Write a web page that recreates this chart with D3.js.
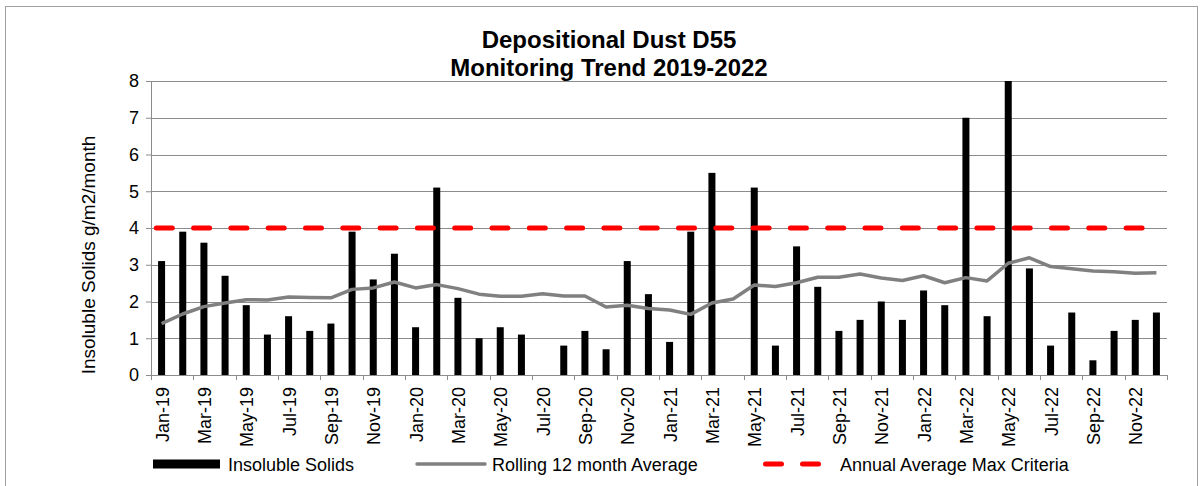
<!DOCTYPE html>
<html>
<head>
<meta charset="utf-8">
<script src="https://cdn.jsdelivr.net/npm/d3@7"></script>
<style>
  body { margin: 0; background: #fff; }
  text { font-family: "Liberation Sans", Arial, sans-serif; fill: #000; }
</style>
</head>
<body>
<svg id="chart" width="1203" height="486"></svg>
<script>
/* Chart data */
var months = ["Jan-19","Feb-19","Mar-19","Apr-19","May-19","Jun-19","Jul-19","Aug-19","Sep-19","Oct-19","Nov-19","Dec-19",
              "Jan-20","Feb-20","Mar-20","Apr-20","May-20","Jun-20","Jul-20","Aug-20","Sep-20","Oct-20","Nov-20","Dec-20",
              "Jan-21","Feb-21","Mar-21","Apr-21","May-21","Jun-21","Jul-21","Aug-21","Sep-21","Oct-21","Nov-21","Dec-21",
              "Jan-22","Feb-22","Mar-22","Apr-22","May-22","Jun-22","Jul-22","Aug-22","Sep-22","Oct-22","Nov-22","Dec-22"];

// null = no sample that month
var insolubleSolids = [3.1, 3.9, 3.6, 2.7, 1.9, 1.1, 1.6, 1.2, 1.4, 3.9, 2.6, 3.3,
                       1.3, 5.1, 2.1, 1.0, 1.3, 1.1, null, 0.8, 1.2, 0.7, 3.1, 2.2,
                       0.9, 3.9, 5.5, null, 5.1, 0.8, 3.5, 2.4, 1.2, 1.5, 2.0, 1.5,
                       2.3, 1.9, 7.0, 1.6, 8.0, 2.9, 0.8, 1.7, 0.4, 1.2, 1.5, 1.7];

var rollingAverage = [1.40, 1.66, 1.86, 1.96, 2.05, 2.04, 2.12, 2.11, 2.10, 2.33, 2.37, 2.53,
                      2.37, 2.46, 2.35, 2.20, 2.14, 2.14, 2.21, 2.15, 2.15, 1.85, 1.90, 1.81,
                      1.77, 1.65, 1.96, 2.07, 2.45, 2.41, 2.51, 2.66, 2.66, 2.75, 2.64, 2.57,
                      2.70, 2.51, 2.65, 2.56, 3.04, 3.19, 2.95, 2.89, 2.83, 2.81, 2.77, 2.78];

var maxCriteria = 4;
var yTicks = [0, 1, 2, 3, 4, 5, 6, 7, 8];

var titleLines = ["Depositional Dust D55", "Monitoring Trend 2019-2022"];
var yLabel = "Insoluble Solids g/m2/month";

/* Layout */
var margin = {left: 151, top: 81, right: 36, bottom: 111};
var width = 1203 - margin.left - margin.right;
var height = 486 - margin.top - margin.bottom;

var svg = d3.select("#chart");

// outer chart border
svg.append("rect")
    .attr("x", 5.5).attr("y", 6.5)
    .attr("width", 1192).attr("height", 490)
    .attr("fill", "none")
    .attr("stroke", "#a0a0a0")
    .attr("stroke-width", 1);

var x = d3.scaleBand().domain(months).range([0, width]).padding(0);
var y = d3.scaleLinear().domain([0, 8]).range([height, 0]);
var bw = x.bandwidth();

var g = svg.append("g")
    .attr("transform", "translate(" + margin.left + "," + margin.top + ")");

// horizontal gridlines
g.selectAll(".grid")
    .data(yTicks.filter(function(t) { return t > 0; }))
    .enter().append("line")
    .attr("x1", 0).attr("x2", width)
    .attr("y1", function(t) { return Math.round(y(t)) + 0.5; })
    .attr("y2", function(t) { return Math.round(y(t)) + 0.5; })
    .attr("stroke", "#8c8c8c")
    .attr("stroke-width", 1);

// y-axis
var yAxis = g.append("g")
    .call(d3.axisLeft(y).tickValues(yTicks).tickSize(5).tickPadding(7).tickFormat(d3.format("d")));
yAxis.select(".domain").attr("stroke", "#8c8c8c");
yAxis.selectAll(".tick line").attr("stroke", "#8c8c8c");
yAxis.selectAll(".tick text")
    .style("font-size", "18px")
    .style("font-family", "Liberation Sans, Arial, sans-serif");

// bars
g.selectAll(".bar")
    .data(months.map(function(m, i) { return {month: m, value: insolubleSolids[i]}; })
        .filter(function(d) { return d.value != null; }))
    .enter().append("rect")
    .attr("class", "bar")
    .attr("x", function(d) { return x(d.month) + bw / 2 - 3.5; })
    .attr("width", 7)
    .attr("y", function(d) { return y(d.value); })
    .attr("height", function(d) { return y(0) - y(d.value); })
    .attr("fill", "#000");

// x-axis line and ticks every 2 months
g.append("line")
    .attr("x1", 0).attr("x2", width)
    .attr("y1", height + 0.5).attr("y2", height + 0.5)
    .attr("stroke", "#8c8c8c");

var tickIdx = d3.range(0, months.length + 1, 2);
g.selectAll(".xtick")
    .data(tickIdx)
    .enter().append("line")
    .attr("x1", function(i) { return Math.round(i * bw) + 0.5; })
    .attr("x2", function(i) { return Math.round(i * bw) + 0.5; })
    .attr("y1", height).attr("y2", height + 5)
    .attr("stroke", "#8c8c8c");

g.selectAll(".xlabel")
    .data(months.filter(function(m, i) { return i % 2 === 0; }))
    .enter().append("text")
    .attr("transform", function(m) {
        return "translate(" + (x(m) + bw / 2 + 7) + "," + (height + 12) + ") rotate(-90)";
    })
    .attr("text-anchor", "end")
    .style("font-size", "18px")
    .text(function(m) { return m; });

// rolling average line
var valueline = d3.line()
    .x(function(d, i) { return x(months[i]) + bw / 2; })
    .y(function(d) { return y(d); });

g.append("path")
    .datum(rollingAverage)
    .attr("fill", "none")
    .attr("stroke", "#808080")
    .attr("stroke-width", 3.5)
    .attr("stroke-linejoin", "round")
    .attr("d", valueline);

// annual average max criteria (red dashed)
g.append("line")
    .attr("x1", 0)
    .attr("x2", x(months[months.length - 1]) + bw / 2)
    .attr("y1", y(maxCriteria)).attr("y2", y(maxCriteria))
    .attr("stroke", "#ff0000")
    .attr("stroke-width", 5)
    .attr("stroke-linecap", "round")
    .attr("stroke-dasharray", "16 21.3")
    .attr("stroke-dashoffset", 32);

// title
svg.append("text")
    .attr("x", 609).attr("y", 48)
    .attr("text-anchor", "middle")
    .style("font-size", "24px").style("font-weight", "bold")
    .text(titleLines[0]);
svg.append("text")
    .attr("x", 609).attr("y", 76)
    .attr("text-anchor", "middle")
    .style("font-size", "24px").style("font-weight", "bold")
    .text(titleLines[1]);

// y-axis title
svg.append("text")
    .attr("transform", "translate(95,255) rotate(-90)")
    .attr("text-anchor", "middle")
    .style("font-size", "19px")
    .text(yLabel);

// legend
var legend = svg.append("g").attr("transform", "translate(0,464)");
legend.append("rect")
    .attr("x", 153).attr("y", -4.5).attr("width", 67).attr("height", 9)
    .attr("fill", "#000");
legend.append("text").attr("x", 228).attr("y", 6.5).style("font-size", "18px").text("Insoluble Solids");

legend.append("line")
    .attr("x1", 417).attr("x2", 485).attr("y1", 0).attr("y2", 0)
    .attr("stroke", "#808080").attr("stroke-width", 3.5).attr("stroke-linecap", "round");
legend.append("text").attr("x", 492).attr("y", 6.5).style("font-size", "18px").text("Rolling 12 month Average");

legend.append("line")
    .attr("x1", 765.5).attr("x2", 818.5).attr("y1", 0).attr("y2", 0)
    .attr("stroke", "#ff0000").attr("stroke-width", 5).attr("stroke-linecap", "round")
    .attr("stroke-dasharray", "16 21");
legend.append("text").attr("x", 840).attr("y", 6.5).style("font-size", "18px").text("Annual Average Max Criteria");
</script>
</body>
</html>
